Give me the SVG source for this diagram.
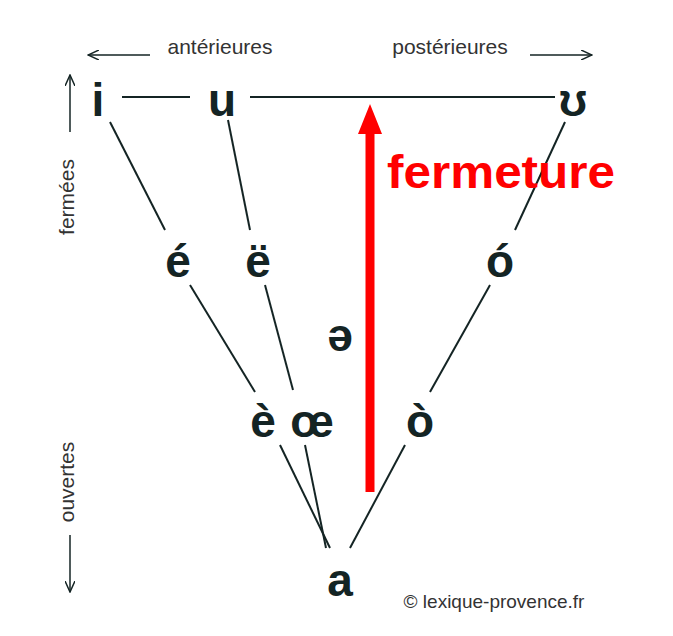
<svg xmlns="http://www.w3.org/2000/svg" width="673" height="636" viewBox="0 0 673 636">
<style>
.v{font-family:"Liberation Sans",Arial,sans-serif;font-weight:bold;font-size:46px;fill:#142424;text-anchor:middle}
.l{font-family:"Liberation Sans",Arial,sans-serif;font-size:21px;fill:#333}
.ln{stroke:#142424;stroke-width:2;fill:none}
.ax{stroke:#142424;stroke-width:1.5;fill:none;marker-end:url(#ah)}
</style>
<defs>
<marker id="ah" markerWidth="12" markerHeight="10" refX="11" refY="5" orient="auto" markerUnits="userSpaceOnUse"><path d="M0,0 L11,5 L0,10" fill="none" stroke="#142424" stroke-width="1.5"/></marker>
<marker id="rh" markerWidth="30" markerHeight="24" refX="12" refY="12" orient="auto" markerUnits="userSpaceOnUse"><path d="M0,0 L30,12 L0,24 Z" fill="#f00"/></marker>
</defs>
<rect width="673" height="636" fill="#fff"/>
<g id="axes">
<line class="ax" x1="150" y1="55" x2="88" y2="55"/>
<text class="l" x="220" y="54" text-anchor="middle">antérieures</text>
<text class="l" x="450" y="54" text-anchor="middle">postérieures</text>
<line class="ax" x1="530" y1="55" x2="592" y2="55"/>
<line class="ax" x1="70" y1="132" x2="70" y2="75"/>
<text class="l" transform="translate(74,197) rotate(-90)" text-anchor="middle">fermées</text>
<text class="l" transform="translate(74,482) rotate(-90)" text-anchor="middle">ouvertes</text>
<line class="ax" x1="70" y1="535" x2="70" y2="592"/>
</g>
<g id="connectors">
<line class="ln" x1="122" y1="97" x2="190" y2="97"/>
<line class="ln" x1="250" y1="97" x2="555" y2="97"/>
<line class="ln" x1="110" y1="122" x2="165" y2="230"/>
<line class="ln" x1="190" y1="285" x2="255" y2="392"/>
<line class="ln" x1="280" y1="445" x2="330" y2="548"/>
<line class="ln" x1="228" y1="120" x2="250" y2="230"/>
<line class="ln" x1="265" y1="285" x2="293" y2="390"/>
<line class="ln" x1="305" y1="445" x2="326" y2="548"/>
<line class="ln" x1="565" y1="122" x2="515" y2="230"/>
<line class="ln" x1="490" y1="285" x2="430" y2="392"/>
<line class="ln" x1="405" y1="445" x2="350" y2="548"/>
</g>
<g id="i"><text class="v" x="98" y="116">i</text></g>
<g id="u"><text class="v" x="222" y="116">u</text></g>
<g id="ʊ"><text class="v" x="573" y="116">ʊ</text></g>
<g id="é"><text class="v" x="178" y="277">é</text></g>
<g id="ë"><text class="v" x="258" y="277">ë</text></g>
<g id="ó"><text class="v" x="500" y="277">ó</text></g>
<g id="ə"><text class="v" x="340" y="351">ə</text></g>
<g id="è"><text class="v" x="263" y="437">è</text></g>
<g id="œ"><text class="v" x="312" y="437">œ</text></g>
<g id="ò"><text class="v" x="420" y="437">ò</text></g>
<g id="a"><text class="v" x="340" y="596">a</text></g>
<g id="fermeture">
<line x1="370" y1="492" x2="370" y2="122" stroke="#f00" stroke-width="9" marker-end="url(#rh)"/>
<text x="387" y="188" font-family="Liberation Sans,Arial,sans-serif" font-weight="bold" font-size="46" fill="#f00" textLength="228" lengthAdjust="spacingAndGlyphs">fermeture</text>
</g>
<text class="l" x="494" y="608" text-anchor="middle" style="font-size:19px">© lexique-provence.fr</text>
</svg>
